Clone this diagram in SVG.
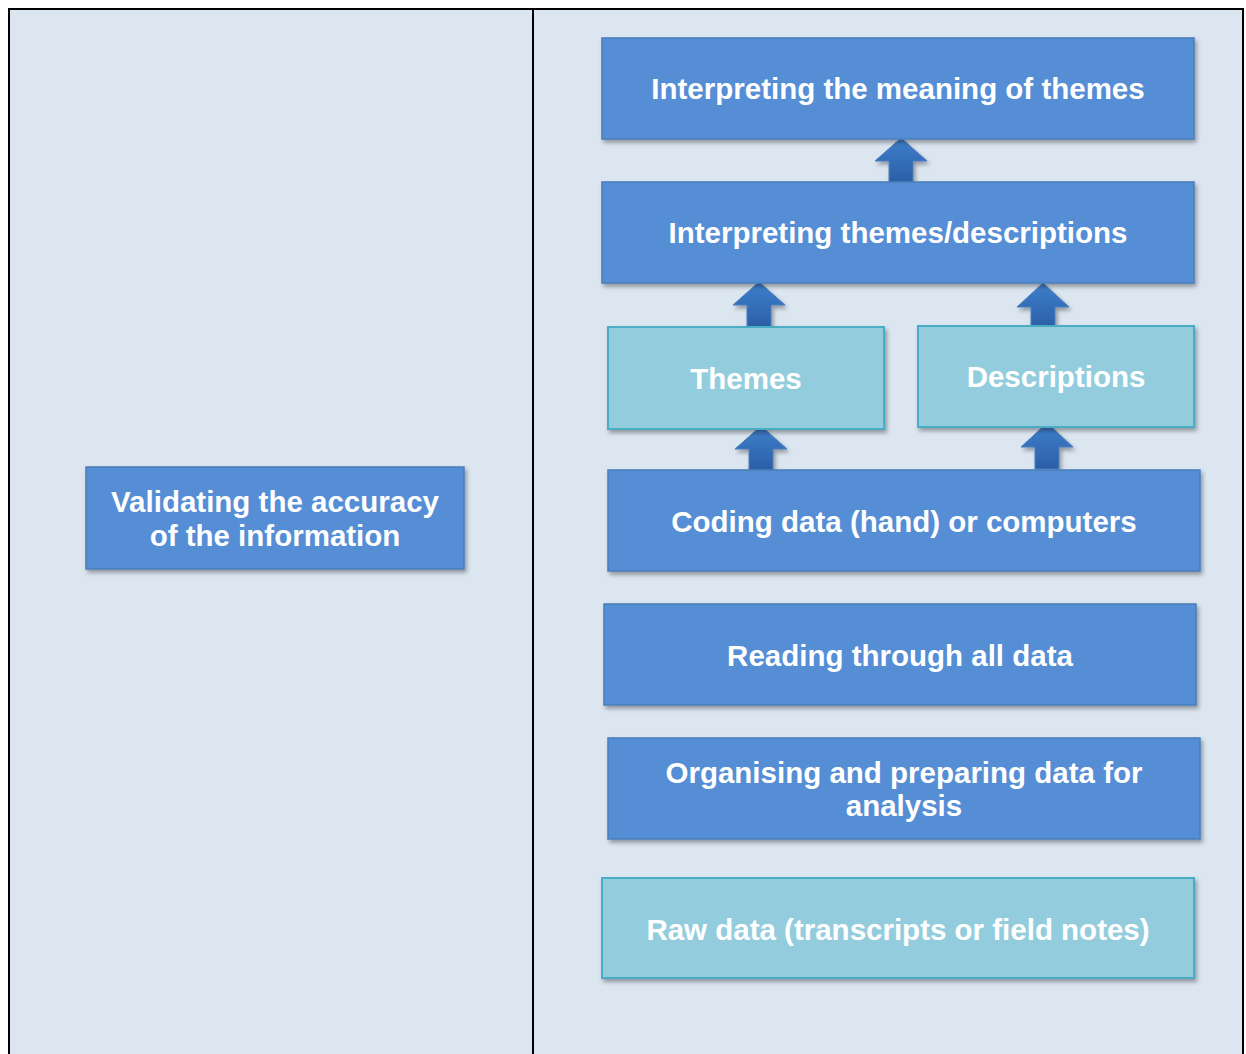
<svg xmlns="http://www.w3.org/2000/svg" width="1246" height="1054" viewBox="0 0 1246 1054">
  <defs>
    <filter id="shadow" x="-10%" y="-20%" width="120%" height="150%">
      <feDropShadow dx="2" dy="3" stdDeviation="2" flood-color="#000000" flood-opacity="0.35"/>
    </filter>
    <linearGradient id="arrowFill" x1="0" y1="0" x2="0" y2="1">
      <stop offset="0" stop-color="#3f7fcc"/>
      <stop offset="1" stop-color="#2b5fa6"/>
    </linearGradient>
    <style>
      .frame { fill: #dce6f1; stroke: none; }
      .rule { stroke: #000000; stroke-width: 2; fill: none; }
      .dark { fill: #558ed5; stroke: #4a7ebb; stroke-width: 1.5; filter: url(#shadow); }
      .light { fill: #93cddd; stroke: #4bacc6; stroke-width: 2; filter: url(#shadow); }
      .label { font-family: "Liberation Sans", Arial, sans-serif; font-weight: bold; font-size: 29.5px; fill: #ffffff; text-anchor: middle; }
      .arrow { fill: url(#arrowFill); stroke: #4a7ebb; stroke-width: 1; filter: url(#shadow); }
    </style>
  </defs>

  <!-- page background and frame -->
  <rect x="0" y="0" width="1246" height="1054" fill="#ffffff"/>
  <rect class="frame" x="9" y="8" width="1234" height="1050"/>
  <path class="rule" d="M9,1054 V9 H1243 V1054"/>
  <line class="rule" x1="533" y1="10" x2="533" y2="1054"/>

  <!-- connectors: block arrows pointing up -->
  <g id="connectors">
    <polygon class="arrow" points="901,138 927,161 913,161 913,182 889,182 889,161 875,161"/>
    <polygon class="arrow" points="759,282 785,305 771,305 771,327 747,327 747,305 733,305"/>
    <polygon class="arrow" points="1043,283 1069,307 1055,307 1055,327 1031,327 1031,307 1017,307"/>
    <polygon class="arrow" points="761,426 787,449 773,449 773,470 749,470 749,449 735,449"/>
    <polygon class="arrow" points="1047,423 1073,447 1059,447 1059,469 1035,469 1035,447 1021,447"/>
  </g>

  <g id="node-meaning">
    <rect class="dark" x="602" y="38" width="592" height="101"/>
    <text class="label" x="898" y="99">Interpreting the meaning of themes</text>
  </g>
  <g id="node-interpreting">
    <rect class="dark" x="602" y="182" width="592" height="101"/>
    <text class="label" x="898" y="243">Interpreting themes/descriptions</text>
  </g>
  <g id="node-themes">
    <rect class="light" x="608" y="327" width="276" height="102"/>
    <text class="label" x="746" y="389">Themes</text>
  </g>
  <g id="node-descriptions">
    <rect class="light" x="918" y="326" width="276" height="101"/>
    <text class="label" x="1056" y="387">Descriptions</text>
  </g>
  <g id="node-coding">
    <rect class="dark" x="608" y="470" width="592" height="101"/>
    <text class="label" x="904" y="532">Coding data (hand) or computers</text>
  </g>
  <g id="node-reading">
    <rect class="dark" x="604" y="604" width="592" height="101"/>
    <text class="label" x="900" y="666">Reading through all data</text>
  </g>
  <g id="node-organising">
    <rect class="dark" x="608" y="738" width="592" height="101"/>
    <text class="label" x="904" y="783">Organising and preparing data for</text>
    <text class="label" x="904" y="816">analysis</text>
  </g>
  <g id="node-raw">
    <rect class="light" x="602" y="878" width="592" height="100"/>
    <text class="label" x="898" y="940">Raw data (transcripts or field notes)</text>
  </g>
  <g id="node-validating">
    <rect class="dark" x="86" y="467" width="378" height="102"/>
    <text class="label" x="275" y="512">Validating the accuracy</text>
    <text class="label" x="275" y="546">of the information</text>
  </g>
</svg>
